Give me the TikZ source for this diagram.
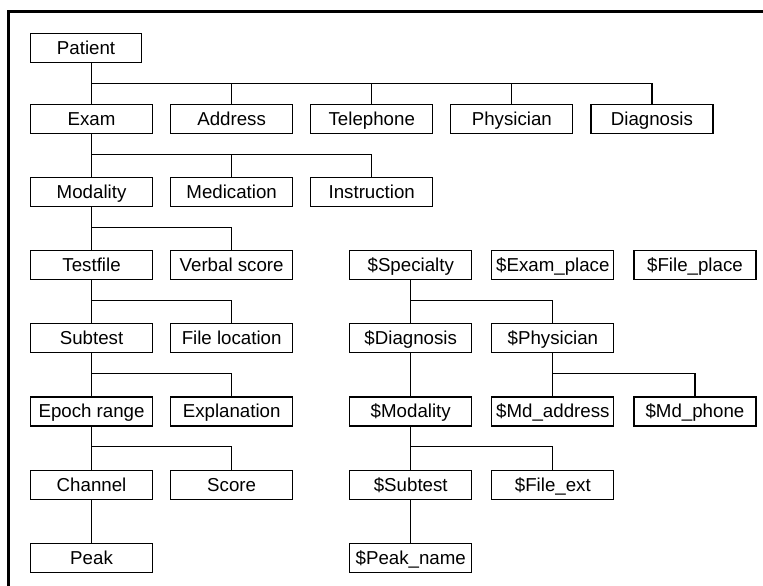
\documentclass[tikz,border=0pt]{standalone}
\usepackage{fontspec}
\setmainfont{Liberation Sans}
\usetikzlibrary{positioning}

\begin{document}
\begin{tikzpicture}[
    node distance=43pt and 17pt,
    box/.style={draw,line width=1.1pt,minimum width=122pt,minimum height=29pt,
      inner xsep=2pt,text height=15pt,text depth=2pt,
      font=\fontsize{18.7}{20}\selectfont},
    link/.style={line width=1.1pt},
    frame/.style={line width=3pt}
  ]
  \useasboundingbox (0,0) rectangle (763pt,-586pt);
  \draw[frame] (8.5pt,-586pt) -- (8.5pt,-12pt) -- (763pt,-12pt);

  % record tree
  \node[box,minimum width=111pt,anchor=north west] (patient) at (30pt,-33pt) {Patient};
  \node[box,anchor=north west] (exam) at (30pt,-104pt) {Exam};
  \node[box,right=of exam] (address) {Address};
  \node[box,right=of address] (telephone) {Telephone};
  \node[box,right=of telephone] (physician) {Physician};
  \node[box,right=of physician] (diagnosis) {Diagnosis};
  \node[box,below=of exam] (modality) {Modality};
  \node[box,right=of modality] (medication) {Medication};
  \node[box,right=of medication] (instruction) {Instruction};
  \node[box,below=of modality] (testfile) {Testfile};
  \node[box,right=of testfile] (verbal) {Verbal score};
  \node[box,below=of testfile] (subtest) {Subtest};
  \node[box,right=of subtest] (fileloc) {File location};
  \node[box,below=of subtest] (epoch) {Epoch range};
  \node[box,right=of epoch] (explanation) {Explanation};
  \node[box,below=of epoch] (channel) {Channel};
  \node[box,right=of channel] (score) {Score};
  \node[box,below=of channel] (peak) {Peak};

  % variable tree
  \node[box,right=56pt of verbal] (vspecialty) {\$Specialty};
  \node[box,right=19pt of vspecialty] (vexamplace) {\$Exam\_place};
  \node[box,right=19pt of vexamplace] (vfileplace) {\$File\_place};
  \node[box,below=of vspecialty] (vdiagnosis) {\$Diagnosis};
  \node[box,right=19pt of vdiagnosis] (vphysician) {\$Physician};
  \node[box,below=of vdiagnosis] (vmodality) {\$Modality};
  \node[box,right=19pt of vmodality] (vmdaddress) {\$Md\_address};
  \node[box,right=19pt of vmdaddress] (vmdphone) {\$Md\_phone};
  \node[box,below=of vmodality] (vsubtest) {\$Subtest};
  \node[box,right=19pt of vsubtest] (vfileext) {\$File\_ext};
  \node[box,below=of vsubtest] (vpeakname) {\$Peak\_name};

  \draw[link] (patient.south -| exam.north) -- (exam.north);
  \draw[link] (patient.south -| exam.north) ++(0,-20pt) -| (address.north);
  \draw[link] (patient.south -| exam.north) ++(0,-20pt) -| (telephone.north);
  \draw[link] (patient.south -| exam.north) ++(0,-20pt) -| (physician.north);
  \draw[link] (patient.south -| exam.north) ++(0,-20pt) -| (diagnosis.north);

  \draw[link] (exam) -- (modality);
  \draw[link] (exam.south) ++(0,-20pt) -| (medication.north);
  \draw[link] (exam.south) ++(0,-20pt) -| (instruction.north);
  \draw[link] (modality) -- (testfile);
  \draw[link] (modality.south) ++(0,-20pt) -| (verbal.north);
  \draw[link] (testfile) -- (subtest);
  \draw[link] (testfile.south) ++(0,-20pt) -| (fileloc.north);
  \draw[link] (subtest) -- (epoch);
  \draw[link] (subtest.south) ++(0,-20pt) -| (explanation.north);
  \draw[link] (epoch) -- (channel);
  \draw[link] (epoch.south) ++(0,-20pt) -| (score.north);
  \draw[link] (channel) -- (peak);

  \draw[link] (vspecialty) -- (vdiagnosis);
  \draw[link] (vspecialty.south) ++(0,-20pt) -| (vphysician.north);
  \draw[link] (vphysician) -- (vmdaddress);
  \draw[link] (vphysician.south) ++(0,-20pt) -| (vmdphone.north);
  \draw[link] (vdiagnosis) -- (vmodality);
  \draw[link] (vmodality) -- (vsubtest);
  \draw[link] (vmodality.south) ++(0,-20pt) -| (vfileext.north);
  \draw[link] (vsubtest) -- (vpeakname);
\end{tikzpicture}
\end{document}
